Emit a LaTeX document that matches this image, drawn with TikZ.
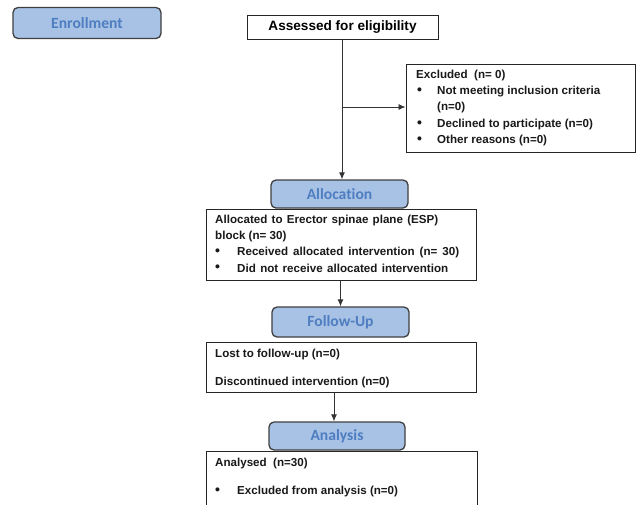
\documentclass[tikz,border=0pt]{standalone}
\usepackage{fontspec}
\setmainfont{Liberation Sans}
\newfontfamily\hdrfont[Ligatures=NoCommon]{Carlito}
\usetikzlibrary{arrows.meta,calc}
\definecolor{hdrfill}{HTML}{A8C2E6}
\definecolor{hdrtext}{HTML}{4E7DC0}
\definecolor{hdrdraw}{HTML}{3F3F3F}
\tikzset{
  hdr/.style={draw=hdrdraw, line width=1.3pt, fill=hdrfill, rounded corners=5pt, text=hdrtext, font=\hdrfont\bfseries\fontsize{15.6}{18}\selectfont, inner sep=0pt},
  bx/.style={draw=black!85, line width=1pt, fill=white, inner sep=0pt},
  txt/.style={anchor=west, font=\bfseries\fontsize{11.6}{13}\selectfont, inner sep=0pt, text=black!90},
  bul/.style={anchor=west, font=\bfseries\fontsize{14}{13}\selectfont, inner sep=0pt, text=black!90},
  conn/.style={line width=0.9pt, draw=black!80, -{Latex[length=7pt,width=6pt]}},
}
\begin{document}
\begin{tikzpicture}[x=1pt,y=-1pt]
\useasboundingbox (0,0) rectangle (636,504);
% header boxes
\node[hdr, minimum width=148pt, minimum height=31pt] (enr) at (87,23) {Enrollment};
\node[hdr, minimum width=137pt, minimum height=28pt] (alloc) at (339.5,194) {Allocation};
\node[hdr, minimum width=137pt, minimum height=30pt] (fup) at (340.5,322) {Follow-Up};
\node[hdr, minimum width=136pt, minimum height=28pt] (ana) at (337,436) {Analysis};
% content boxes
\node[bx, minimum width=191pt, minimum height=24pt, font=\bfseries\fontsize{13.6}{15}\selectfont] (assess) at (342.5,27) {Assessed for eligibility};
\node[bx, minimum width=229pt, minimum height=88pt] (excl) at (520.5,108) {};
\node[bx, minimum width=270pt, minimum height=71pt] (allocd) at (341.5,244.5) {};
\node[bx, minimum width=270pt, minimum height=50pt] (lost) at (341.5,367) {};
\coordinate (anaL) at (206,451);
\coordinate (anaR) at (477,451);
\draw[draw=black!85, line width=1pt] ($(anaL)+(0,60)$) -- (anaL) -- (anaR) -- ($(anaR)+(0,60)$);
% texts
\node[txt] at (416,75) {Excluded\ \ (n= 0)};
\node[bul] at (417,91.5) {•};
\node[txt] at (437,91.5) {Not meeting inclusion criteria};
\node[txt] at (437,107.5) {(n=0)};
\node[bul] at (417,124) {•};
\node[txt] at (437,124) {Declined to participate (n=0)};
\node[bul] at (417,140) {•};
\node[txt] at (437,140) {Other reasons (n=0)};
%
\node[txt] at (215,220) {\makebox[223pt][s]{Allocated to Erector spinae plane (ESP)}};
\node[txt] at (215,236) {block (n= 30)};
\node[bul] at (215,252.5) {•};
\node[txt] at (237,252.5) {\makebox[222pt][s]{Received allocated intervention (n= 30)}};
\node[bul] at (215,268) {•};
\node[txt] at (237,268) {\makebox[211pt][s]{Did not receive allocated intervention}};
%
\node[txt] at (215,354) {Lost to follow-up (n=0)};
\node[txt] at (215,382) {Discontinued intervention\ (n=0)};
%
\node[txt] at (215,463) {Analysed\ \ (n=30)};
\node[bul] at (215,491) {•};
\node[txt] at (237,491) {Excluded from analysis\ (n=0)};
% connectors
\coordinate (br) at (342,107);
\draw[line width=0.9pt, draw=black!80] (assess.south -| br) -- (br);
\draw[conn] (br) -- (alloc.north -| br);
\draw[conn] (br) -- (br -| excl.west);
\draw[conn] (allocd.south -| fup.north) -- (fup.north);
\draw[conn] ($(lost.south)+(-7.5,0)$) -- ($(ana.north)+(-3,0)$);
\end{tikzpicture}
\end{document}
